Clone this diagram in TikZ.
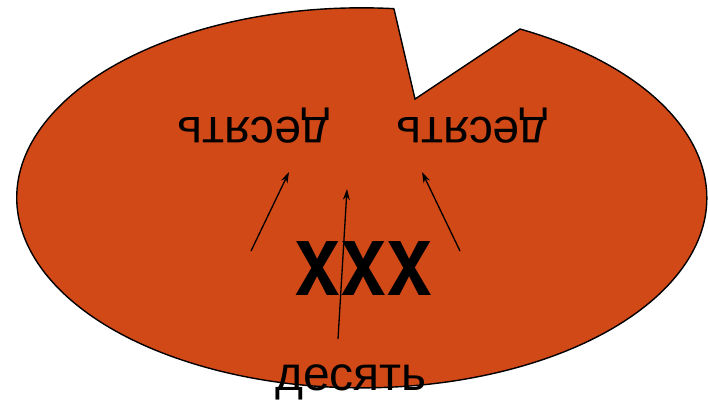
\documentclass[tikz,border=0pt]{standalone}
\usepackage{fontspec}
\setmainfont{Liberation Sans}
\usetikzlibrary{arrows.meta}
\definecolor{blob}{RGB}{210,73,24}
\newfontfamily\bigbold{TeX Gyre Heros}
\tikzset{
  lbl/.style={inner sep=0pt, font=\fontsize{48}{56}\selectfont, anchor=base},
  big/.style={inner sep=0pt, anchor=base},
  arr/.style={line width=1.3pt, -{Stealth[length=11pt,width=7pt]}}
}
\begin{document}
\begin{tikzpicture}[x=1pt,y=-1pt]
\useasboundingbox (0,0) rectangle (708,399);
% blob with notch
\filldraw[fill=blob, draw=black, line width=1.4pt]
  (394,9) -- (415,99) -- (520,29)
  arc[start angle=-62.7, end angle=275.3, x radius=345, y radius=190] -- cycle;
\node[lbl, rotate=180] (t1) at (253.5,117) {десять};
\node[lbl, rotate=180] (t2) at (472,117) {десять};
\node[big] (x) at (363.5,295) {\scalebox{0.93}[1]{\bigbold\bfseries\fontsize{74}{80}\selectfont XXX}};
\node[lbl] (t3) at (351,390) {десять};
\coordinate (a1) at (251,251);
\coordinate (b1) at (289,172);
\coordinate (a2) at (338,339);
\coordinate (b2) at (347,189);
\coordinate (a3) at (460,251);
\coordinate (b3) at (422,172);
\draw[arr] (a1) -- (b1);
\draw[arr] (a2) -- (b2);
\draw[arr] (a3) -- (b3);
\end{tikzpicture}
\end{document}
